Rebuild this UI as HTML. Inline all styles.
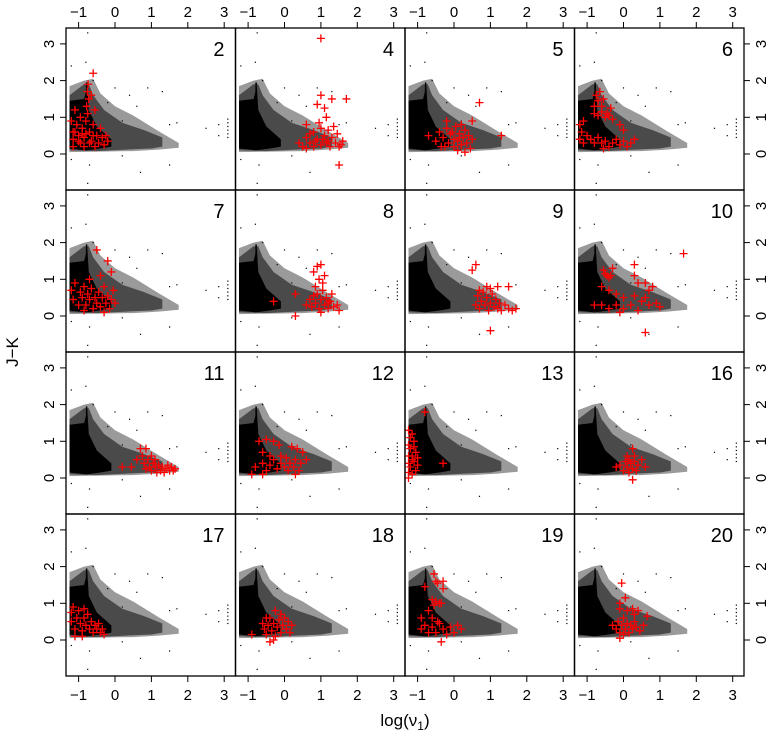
<!DOCTYPE html>
<html><head><meta charset="utf-8"><style>
body{margin:0;background:#fff;font-family:"Liberation Sans",sans-serif}
svg text{font-family:"Liberation Sans",sans-serif;fill:#000}
</style></head><body>
<svg id="chart" width="766" height="738" viewBox="0 0 766 738" xmlns="http://www.w3.org/2000/svg"></svg>
<script>
const panelLabels=["2","4","5","6","7","8","9","10","11","12","13","16","17","18","19","20"];
const xTicks=[-1,0,1,2,3];
const yTicks=[0,1,2,3];
const coreCloud=[[-1.25,0.15],[-0.8,0.1],[-0.4,0.15],[-0.1,0.2],[-0.1,0.4],[-0.5,0.75],[-0.72,1.2],[-0.76,1.85],[-0.85,1.5],[-1.25,1.45]];
const midCloud=[[-1.25,0.1],[-0.5,0.08],[0.3,0.12],[1.0,0.15],[1.3,0.2],[1.3,0.45],[0.8,0.65],[0.2,0.85],[-0.3,1.2],[-0.6,1.6],[-0.72,1.9],[-0.85,1.9],[-1.25,1.6]];
const wedgeCloud=[[-1.25,0.05],[0.5,0.08],[1.2,0.12],[1.75,0.17],[1.75,0.3],[1.2,0.62],[0.5,1.05],[0,1.3],[-0.4,1.65],[-0.6,2.05],[-0.85,2.0],[-1.25,1.85]];
const blackDots=[[-0.75,3.3],[-1.2,2.4],[-0.8,2.5],[-0.6,2.0],[0.0,1.8],[0.4,1.6],[0.9,1.8],[1.3,1.7],[1.5,0.8],[1.7,0.85],[2.5,0.7],[2.85,0.8],[2.85,0.5],[3.1,0.95],[3.1,0.85],[3.1,0.75],[3.1,0.65],[3.1,0.55],[3.1,0.45],[1.5,-0.3],[0.7,-0.5],[-0.7,-0.3],[-0.75,-0.8],[-1.2,-0.15],[0.2,-0.05],[0.6,1.3],[-0.2,1.4],[0.2,0.9]];
const redPoints=[
[[-1.15,0.4],[-1.1,0.6],[-1.05,0.8],[-1.0,0.5],[-0.95,0.3],[-0.9,0.7],[-0.85,0.45],[-0.8,0.9],[-0.78,1.3],[-0.76,1.7],[-0.74,1.9],[-0.72,1.5],[-0.75,1.1],[-0.7,0.6],[-0.65,0.35],[-0.6,0.8],[-0.55,1.2],[-0.5,0.5],[-0.45,0.3],[-0.4,0.7],[-0.35,0.45],[-0.3,0.25],[-0.25,0.5],[-0.6,2.2],[-0.65,1.6],[-1.2,0.9],[-1.15,0.2],[-0.95,1.0],[-0.85,0.2],[-0.55,0.2],[-0.7,0.3],[-0.2,0.35],[-1.1,1.2],[-0.8,0.55],[-0.6,0.5],[-1.0,0.35],[-0.9,0.55],[-1.15,0.6]],
[[1.0,3.15],[1.0,1.6],[1.3,1.5],[1.1,1.25],[1.7,1.5],[0.9,1.35],[1.15,1.0],[0.6,0.8],[1.5,-0.3],[0.4,0.3],[0.5,0.2],[0.6,0.45],[0.7,0.3],[0.8,0.6],[0.8,0.2],[0.9,0.4],[1.0,0.7],[1.0,0.25],[1.1,0.5],[1.15,0.3],[1.2,0.65],[1.25,0.2],[1.3,0.45],[1.4,0.3],[1.45,0.55],[1.5,0.2],[1.6,0.35],[0.95,0.85],[0.7,0.55],[1.35,0.75],[1.55,0.25],[0.85,0.35],[1.05,0.4],[0.6,0.15],[1.2,0.35]],
[[0.7,1.4],[-0.2,0.9],[0.5,0.9],[-0.7,0.5],[1.3,0.5],[-0.5,0.35],[-0.4,0.6],[-0.35,0.2],[-0.3,0.45],[-0.2,0.7],[-0.15,0.3],[-0.1,0.55],[0.0,0.4],[0.0,0.2],[0.05,0.75],[0.1,0.35],[0.15,0.55],[0.2,0.25],[0.25,0.45],[0.3,0.65],[0.35,0.3],[0.4,0.5],[0.45,0.15],[0.5,0.4],[-0.25,0.2],[0.1,0.1],[0.3,0.05],[0.2,0.8],[-0.05,0.6],[0.15,0.45]],
[[-0.8,1.3],[-0.7,1.45],[-0.65,1.7],[-0.75,1.6],[-0.6,1.3],[-0.55,1.5],[-0.8,1.1],[-0.7,1.05],[-0.6,1.15],[-0.5,1.0],[-0.45,1.1],[-0.4,1.05],[-0.35,1.25],[-0.3,0.95],[-1.2,0.8],[-1.15,0.6],[-1.1,0.9],[-1.2,0.4],[-1.1,0.3],[-1.0,0.5],[-0.9,0.4],[-0.8,0.3],[-0.7,0.45],[-0.6,0.3],[-0.5,0.35],[-0.4,0.2],[-0.3,0.3],[-0.2,0.4],[-0.1,0.25],[0.0,0.35],[0.1,0.2],[0.2,0.3],[0.3,0.4],[-0.1,0.8],[0.0,0.65],[-0.55,0.15]],
[[-0.5,1.8],[-0.2,1.5],[-0.1,1.2],[-0.4,1.1],[-1.2,0.7],[-1.15,0.45],[-1.1,0.9],[-1.0,0.3],[-0.95,0.65],[-0.9,0.5],[-0.85,0.8],[-0.8,0.3],[-0.75,0.6],[-0.7,0.45],[-0.65,0.75],[-0.6,0.2],[-0.55,0.5],[-0.5,0.35],[-0.45,0.65],[-0.4,0.25],[-0.35,0.5],[-0.3,0.8],[-0.25,0.35],[-0.2,0.55],[-0.15,0.2],[-0.1,0.45],[-0.05,0.7],[0.0,0.35],[-0.7,1.0],[-0.85,0.15],[-0.3,0.1]],
[[0.3,0.0],[-0.3,0.4],[0.3,0.6],[0.8,1.2],[0.9,1.35],[1.0,1.4],[0.95,1.0],[1.05,0.9],[1.1,1.1],[0.85,0.8],[0.7,0.45],[0.75,0.25],[0.8,0.55],[0.85,0.35],[0.9,0.6],[0.95,0.2],[1.0,0.45],[1.05,0.7],[1.1,0.3],[1.15,0.5],[1.2,0.2],[1.25,0.4],[1.3,0.6],[1.35,0.25],[1.45,0.3],[1.5,0.15],[0.6,0.3],[1.0,0.1],[1.2,0.35]],
[[0.6,1.4],[0.5,1.25],[1.2,0.8],[1.5,0.8],[1.0,-0.4],[0.6,0.3],[0.65,0.55],[0.7,0.2],[0.75,0.4],[0.8,0.65],[0.85,0.3],[0.9,0.5],[0.95,0.15],[1.0,0.35],[1.05,0.6],[1.1,0.25],[1.15,0.45],[1.2,0.2],[1.25,0.35],[1.3,0.15],[1.4,0.3],[1.5,0.2],[1.6,0.15],[1.7,0.2],[0.9,0.8],[1.0,0.75],[0.7,0.7]],
[[1.65,1.7],[-0.5,1.15],[-0.45,1.1],[-0.4,1.05],[-0.35,1.1],[-0.55,1.25],[-0.3,1.3],[0.3,1.4],[0.3,1.1],[0.4,0.9],[0.6,0.9],[0.7,0.7],[0.8,0.8],[0.6,0.5],[-0.6,0.8],[-0.4,0.7],[-0.2,0.6],[-0.8,0.3],[-0.6,0.3],[-0.4,0.2],[-0.2,0.3],[0.0,0.2],[0.2,0.3],[0.4,0.15],[0.5,0.4],[0.7,0.3],[0.9,0.35],[1.0,0.25],[0.0,0.5],[0.3,0.55],[0.6,-0.45],[-0.1,0.1]],
[[0.2,0.3],[0.45,0.3],[0.6,0.5],[0.7,0.8],[0.85,0.8],[0.75,0.6],[0.8,0.4],[0.85,0.25],[0.9,0.5],[0.95,0.3],[1.0,0.2],[1.05,0.4],[1.1,0.3],[1.15,0.15],[1.2,0.35],[1.25,0.2],[1.3,0.3],[1.35,0.15],[1.4,0.25],[1.45,0.35],[1.5,0.2],[1.55,0.3],[1.6,0.2],[1.65,0.25],[1.0,0.6],[1.1,0.5]],
[[-0.7,1.0],[-0.5,1.05],[-0.3,1.0],[-0.15,0.9],[-0.6,0.7],[-0.4,0.6],[0.2,0.85],[0.35,0.8],[0.5,0.7],[0.6,0.5],[-0.8,0.3],[-0.6,0.4],[-0.5,0.2],[-0.4,0.35],[-0.3,0.5],[-0.2,0.25],[-0.1,0.4],[0.0,0.3],[0.05,0.55],[0.1,0.2],[0.15,0.4],[0.25,0.3],[0.3,0.5],[0.4,0.2],[0.45,0.4],[-0.9,0.1],[-0.6,0.1],[0.3,0.1],[-0.1,0.6]],
[[-0.8,1.8],[-1.25,1.3],[-1.2,1.1],[-1.15,1.2],[-1.25,0.9],[-1.2,0.8],[-1.1,0.85],[-1.25,0.6],[-1.15,0.6],[-1.05,0.7],[-1.25,0.4],[-1.2,0.3],[-1.1,0.45],[-1.0,0.35],[-1.25,0.15],[-1.15,0.1],[-1.05,0.2],[-1.25,0.0],[-1.15,0.5],[-1.1,1.0],[-0.3,0.4],[-1.0,0.55]],
[[0.25,0.8],[0.1,0.6],[0.3,0.6],[-0.2,0.3],[0.0,0.2],[0.05,0.45],[0.1,0.3],[0.15,0.15],[0.2,0.4],[0.25,0.25],[0.3,0.45],[0.35,0.2],[0.4,0.35],[0.5,0.5],[0.6,0.3],[0.25,-0.05],[0.15,0.5],[-0.1,0.35]],
[[-1.2,0.75],[-1.15,0.9],[-1.2,0.5],[-1.1,0.3],[-1.05,0.6],[-1.0,0.8],[-0.95,0.45],[-0.9,0.25],[-0.85,0.6],[-0.8,0.4],[-0.75,0.7],[-0.7,0.3],[-0.65,0.5],[-0.6,0.2],[-0.55,0.4],[-0.5,0.3],[-0.45,0.45],[-0.4,0.2],[-0.35,0.3],[-0.3,0.15],[-1.1,0.1],[-0.9,0.1],[-0.85,0.85]],
[[-0.25,0.8],[-0.5,0.6],[-0.6,0.45],[-0.55,0.3],[-0.5,0.15],[-0.45,0.4],[-0.4,0.6],[-0.35,0.25],[-0.3,0.45],[-0.25,0.1],[-0.2,0.35],[-0.15,0.55],[-0.1,0.2],[-0.05,0.4],[0.0,0.6],[0.05,0.3],[0.1,0.5],[0.15,0.2],[-0.3,0.0],[-0.4,-0.05],[0.2,0.4],[-0.9,0.15],[-0.1,0.7]],
[[-0.55,1.8],[-0.5,1.6],[-0.45,1.55],[-0.3,1.6],[-0.3,1.4],[-0.8,1.45],[-0.6,1.1],[-0.5,1.05],[-0.4,1.0],[-0.55,0.95],[-0.35,1.0],[-0.7,0.8],[-0.6,0.6],[-0.9,0.6],[-0.8,0.4],[-0.6,0.35],[-0.5,0.2],[-0.4,0.45],[-0.3,0.3],[-0.2,0.15],[-0.1,0.35],[0.0,0.2],[0.1,0.4],[0.2,0.3],[-0.7,0.2],[-0.35,-0.05],[-0.45,0.5],[-0.9,0.3]],
[[-0.05,1.55],[0.05,1.15],[-0.1,1.0],[-0.1,0.85],[0.1,0.8],[0.25,0.85],[0.3,0.7],[0.4,0.8],[0.3,0.5],[-0.3,0.4],[-0.2,0.3],[-0.15,0.5],[-0.1,0.2],[-0.05,0.4],[0.0,0.6],[0.05,0.3],[0.1,0.45],[0.15,0.2],[0.2,0.4],[0.25,0.3],[0.35,0.35],[0.45,0.25],[0.55,0.4],[0.65,0.65],[-0.1,0.05],[0.0,0.15]]
];

const svg=document.getElementById('chart');
const NS='http://www.w3.org/2000/svg';
const colX=[66,235.5,405,574.5], colW=169.5;
const rowY=[28,190,352,514], rowH=162;
const XU=36.4, YU=36.7, X0OFF=49, Y0OFF=126;
function mk(tag,attrs,parent){const e=document.createElementNS(NS,tag);for(const k in attrs)e.setAttribute(k,attrs[k]);(parent||svg).appendChild(e);return e;}
function sx(c,v){return colX[c]+X0OFF+v*XU;}
function sy(r,v){return rowY[r]+Y0OFF-v*YU;}
function poly(arr,c,r){return arr.map(p=>sx(c,p[0])+','+sy(r,p[1])).join(' ');}

for(let i=0;i<16;i++){
  const r=Math.floor(i/4), c=i%4;
  const g=mk('g',{});
  
  
  const clipId='clip'+i;
  const cp=mk('clipPath',{id:clipId},g);
  mk('rect',{x:colX[c],y:rowY[r],width:colW,height:rowH},cp);
  const inner=mk('g',{'clip-path':'url(#'+clipId+')'},g);
  const w=mk('polygon',{points:poly(wedgeCloud,c,r),fill:'#9a9a9a'},inner);
  
  
  const m=mk('polygon',{points:poly(midCloud,c,r),fill:'#4a4a4a'},inner);
  
  
  const co=mk('polygon',{points:poly(coreCloud,c,r),fill:'#000'},inner);
  
  
  mk('line',{x1:sx(c,-0.78),y1:sy(r,0.3),x2:sx(c,-0.78),y2:sy(r,1.95),stroke:'#000','stroke-width':1.5},inner);
  blackDots.forEach(p=>{
    const d=mk('rect',{x:sx(c,p[0])-0.6,y:sy(r,p[1])-0.6,width:1.2,height:1.2,fill:'#000'},inner);
    
    
  });
  redPoints[i].forEach(p=>{
    const x=sx(c,p[0]), y=sy(r,p[1]);
    const pm=mk('path',{d:`M${x-4},${y}H${x+4}M${x},${y-4}V${y+4}`,stroke:'#ff0000','stroke-width':1.3,fill:'none'},inner);
    
    
  });
  const t=mk('text',{x:colX[c]+colW-11,y:rowY[r]+28,'font-size':20,'text-anchor':'end'},g);
  t.textContent=panelLabels[i];
  
  
  const b=mk('rect',{x:colX[c],y:rowY[r],width:colW,height:rowH,fill:'none',stroke:'#000','stroke-width':1.3},g);
  
  
}
for(let c=0;c<4;c++){
  xTicks.forEach(v=>{
    const x=sx(c,v);
    mk('line',{x1:x,y1:28,x2:x,y2:22,stroke:'#000'});
    mk('line',{x1:x,y1:676,x2:x,y2:682,stroke:'#000'});
    const lab=(v<0?'\u2212':'')+Math.abs(v);
    const t1=mk('text',{x:x,y:17,'font-size':15,'text-anchor':'middle'});t1.textContent=lab;
    
    
    const t2=mk('text',{x:x,y:700,'font-size':15,'text-anchor':'middle'});t2.textContent=lab;
    
    
  });
}
for(let r=0;r<4;r++){
  yTicks.forEach(v=>{
    const y=sy(r,v);
    mk('line',{x1:66,y1:y,x2:60,y2:y,stroke:'#000'});
    mk('line',{x1:744,y1:y,x2:750,y2:y,stroke:'#000'});
    const t1=mk('text',{x:0,y:0,'font-size':15,'text-anchor':'middle',transform:`translate(54,${y}) rotate(-90)`});t1.textContent=v;
    
    
    const t2=mk('text',{x:0,y:0,'font-size':15,'text-anchor':'middle',transform:`translate(766,${y}) rotate(-90)`});t2.textContent=v;
    
    
  });
}
const yt=mk('text',{x:0,y:0,'font-size':17,'text-anchor':'middle',transform:'translate(18,352) rotate(-90)'});
yt.textContent='J\u2212K';


const xt=mk('text',{x:405,y:726,'font-size':17,'text-anchor':'middle'});
xt.innerHTML='log(\u03bd<tspan font-size="12" dy="4">1</tspan><tspan dy="-4">)</tspan>';


</script>
</body></html>
